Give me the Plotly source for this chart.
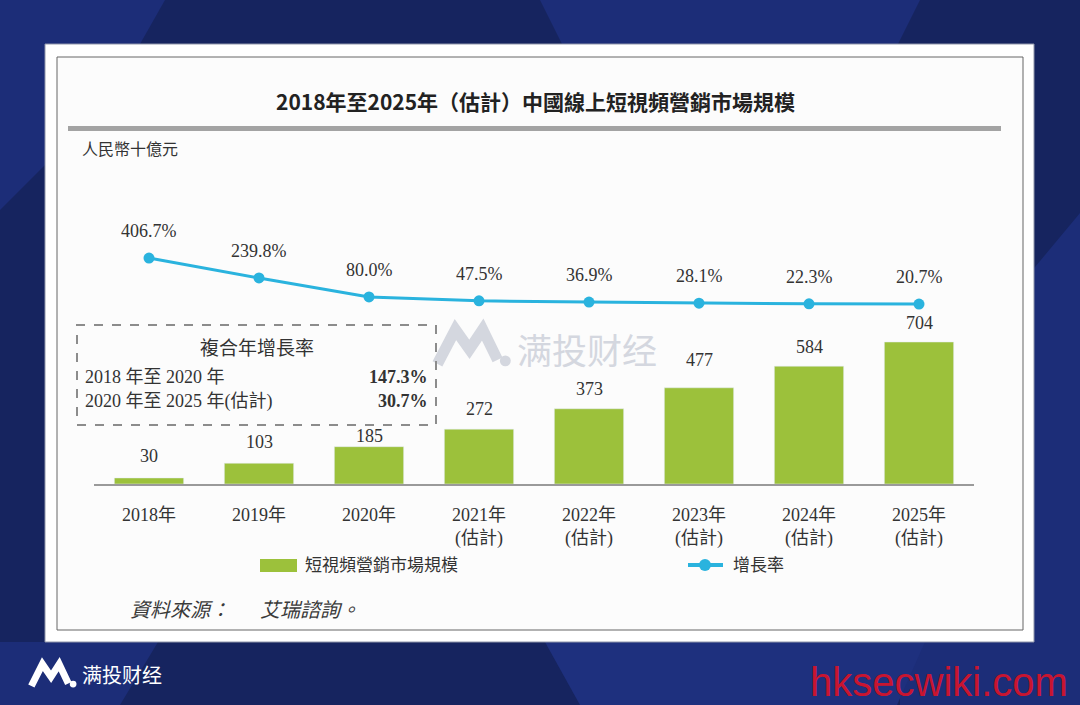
import plotly.graph_objects as go

# data
years = ["2018年", "2019年", "2020年", "2021年<br>(估計)", "2022年<br>(估計)",
         "2023年<br>(估計)", "2024年<br>(估計)", "2025年<br>(估計)"]
market_size = [30, 103, 185, 272, 373, 477, 584, 704]
growth_rate = [406.7, 239.8, 80.0, 47.5, 36.9, 28.1, 22.3, 20.7]
cagr_periods = ["2018 年至 2020 年", "2020 年至 2025 年(估計)"]
cagr_values = ["147.3%", "30.7%"]

# label offsets above the bars (px), the source nudges a few of them
bar_label_shift = [22, 21, 11, 20, 20, 28, 19, 19]

W, H = 1080, 705
GREEN = "#9cc13b"
CYAN = "#2ab3de"
TXT = "#333333"
SERIF = "Liberation Serif, Noto Sans CJK TC, serif"
SANS = "Noto Sans CJK TC, Noto Sans, sans-serif"


def X(p):
    return p / W


def Y(p):
    return 1 - p / H


def poly(pts):
    s = "M " + " L ".join(f"{X(a):.5f},{Y(b):.5f}" for a, b in pts)
    return s + " Z"


def line_path(pts):
    return "M " + " L ".join(f"{X(a):.5f},{Y(b):.5f}" for a, b in pts)


fig = go.Figure()

fig.add_trace(go.Bar(x=years, y=market_size, marker_color=GREEN, width=0.63,
                     name="短視頻營銷市場規模", showlegend=False, hoverinfo="x+y"))
fig.add_trace(go.Scatter(x=years, y=growth_rate, yaxis="y2", mode="lines+markers",
                         line=dict(color=CYAN, width=3), marker=dict(size=11, color=CYAN),
                         name="增長率", showlegend=False))

shapes = []


def block(pts, color):
    shapes.append(dict(type="path", xref="paper", yref="paper", path=poly(pts),
                       fillcolor=color, line_width=0, layer="below"))


# background blocks
block([(0, 0), (165, 0), (106, 104), (0, 210)], "#1c2d78")
block([(540, 0), (920, 0), (895, 50), (565, 50)], "#1c2d78")
block([(1080, 213), (1080, 705), (900, 705), (900, 429)], "#1c2d78")
block([(545, 642), (925, 642), (897, 705), (580, 705)], "#1e307e")
block([(0, 642), (158, 642), (120, 705), (0, 705)], "#1c2d78")

# white card and inner frame
shapes.append(dict(type="rect", xref="paper", yref="paper", x0=X(45), x1=X(1034), y0=Y(642), y1=Y(44),
                   fillcolor="white", line=dict(color="#8f95aa", width=1), layer="below"))
shapes.append(dict(type="rect", xref="paper", yref="paper", x0=X(57), x1=X(1023), y0=Y(630), y1=Y(57),
                   fillcolor="#fcfcfc", line=dict(color="#666666", width=1), layer="below"))
# grey rule under title
shapes.append(dict(type="rect", xref="paper", yref="paper", x0=X(68), x1=X(1001), y0=Y(131), y1=Y(126),
                   fillcolor="#a3a3a3", line_width=0, layer="below"))


def logo(x0, y0, w, h, color, lw):
    def p(u, v):
        return (x0 + u * w, y0 + v * h)
    pts = [p(0.07, 0.93), p(0.30, 0.15), p(0.48, 0.60), p(0.65, 0.15), p(0.84, 0.84)]
    out = [dict(type="path", xref="paper", yref="paper", path=line_path(pts),
                line=dict(color=color, width=lw), layer="below")]
    cx, cy = p(0.94, 0.86)
    r = 0.07 * w
    out.append(dict(type="circle", xref="paper", yref="paper", x0=X(cx - r), x1=X(cx + r),
                    y0=Y(cy + r), y1=Y(cy - r), fillcolor=color, line_width=0, layer="below"))
    return out


# watermark in the middle and brand at the bottom left
shapes += logo(432, 323, 78, 44, "#d4d7df", 11)
shapes += logo(28, 660, 48, 28, "white", 7)

# dashed CAGR box
shapes.append(dict(type="rect", xref="paper", yref="paper", x0=X(77), x1=X(436), y0=Y(425), y1=Y(325),
                   line=dict(color="#8c8c8c", width=2, dash="dash"), fillcolor="rgba(0,0,0,0)"))

# custom legend
shapes.append(dict(type="rect", xref="paper", yref="paper", x0=X(260), x1=X(297), y0=Y(572), y1=Y(559),
                   fillcolor=GREEN, line_width=0))
shapes.append(dict(type="line", xref="paper", yref="paper", x0=X(688), x1=X(723), y0=Y(565), y1=Y(565),
                   line=dict(color=CYAN, width=4)))
shapes.append(dict(type="circle", xref="paper", yref="paper", x0=X(699), x1=X(711), y0=Y(571), y1=Y(559),
                   fillcolor=CYAN, line_width=0))

ann = []
for yr, v, sh in zip(years, market_size, bar_label_shift):
    ann.append(dict(x=yr, y=v, xref="x", yref="y", text=str(v), showarrow=False,
                    yanchor="middle", yshift=sh, font=dict(family=SERIF, size=18, color=TXT)))
for yr, v in zip(years, growth_rate):
    ann.append(dict(x=yr, y=v, xref="x", yref="y2", text=f"{v:.1f}%", showarrow=False,
                    yanchor="middle", yshift=27, font=dict(family=SERIF, size=18, color=TXT)))


def txt(x, y, s, size, color=TXT, family=SERIF, anchor="left"):
    ann.append(dict(x=X(x), y=Y(y), xref="paper", yref="paper", text=s, showarrow=False,
                    xanchor=anchor, yanchor="middle", font=dict(family=family, size=size, color=color)))


txt(535, 101, "<b>2018年至2025年（估計）中國線上短視頻營銷市場規模</b>", 21, "#222222", SANS, "center")
txt(80, 150, "人民幣十億元", 16)
txt(257, 348, "複合年增長率", 19, anchor="center")
for i, (per, val) in enumerate(zip(cagr_periods, cagr_values)):
    yy = 377 + i * 24
    txt(83, yy, per, 18)
    txt(430, yy, f"<b>{val}</b>", 18, anchor="right")
txt(515, 348, "满投财经", 35, "#d4d7df", "Noto Sans CJK SC, sans-serif")
txt(303, 565, "短視頻營銷市場規模", 17)
txt(731, 565, "增長率", 17)
txt(128, 610, "<i>資料來源：　  艾瑞諮詢。</i>", 20, "#3a3a3a")
txt(80, 674, "满投财经", 20, "white", "Noto Sans CJK SC, sans-serif")
txt(1070, 682, "hksecwiki.com", 40, "#c81530", "Liberation Sans Narrow, Liberation Sans, sans-serif", "right")

fig.update_layout(
    width=W, height=H,
    margin=dict(l=0, r=0, t=0, b=0),
    paper_bgcolor="#16245f",
    plot_bgcolor="rgba(0,0,0,0)",
    showlegend=False,
    shapes=shapes,
    annotations=ann,
    bargap=0.37,
    xaxis=dict(domain=[X(94), X(974)], type="category", range=[-0.5, 7.5],
               showline=True, linecolor="#9a9a9a", linewidth=2, showgrid=False,
               ticks="", ticklabelstandoff=13, tickfont=dict(family=SERIF, size=18, color=TXT),
               fixedrange=True),
    yaxis=dict(domain=[Y(484), Y(200)], range=[0, 1408], visible=False, showgrid=False,
               fixedrange=True),
    yaxis2=dict(domain=[Y(484), Y(200)], overlaying="y", range=[-1492, 895], visible=False,
                showgrid=False, fixedrange=True),
)

fig.write_html("out.html", config={"displayModeBar": False},
               post_script="document.body.style.margin='0';document.body.style.overflow='hidden';")
